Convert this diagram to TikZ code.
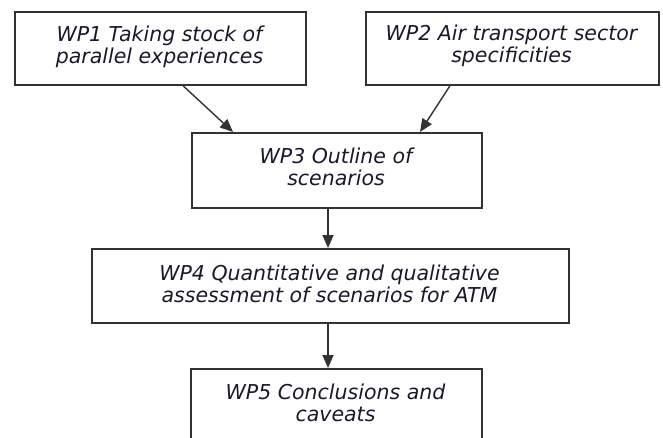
\documentclass[tikz,border=0pt]{standalone}
\usepackage{fontspec}
\setmainfont{DejaVu Sans}
\usetikzlibrary{arrows.meta,calc}
\definecolor{linec}{RGB}{50,50,50}
\definecolor{textc}{RGB}{25,25,45}
\tikzset{
  box/.style={draw=linec, line width=1.7pt, rectangle, inner sep=0pt, anchor=north west},
  txt/.style={align=center, anchor=base, inner sep=0pt, text=textc,
    font=\fontsize{20.5}{22}\selectfont\itshape},
  arr/.style={draw=linec, line width=1.4pt, -{Triangle[length=13pt,width=11pt]}}
}
\begin{document}
\begin{tikzpicture}[x=1pt,y=1pt]
\useasboundingbox (0,0) rectangle (663,-437);
\clip (0,0) rectangle (663,-437);
\node[box, minimum width=291pt, minimum height=73pt] (b1) at (14,-11) {};
\node[box, minimum width=293pt, minimum height=73pt] (b2) at (365,-11) {};
\node[box, minimum width=290pt, minimum height=75pt] (b3) at (191,-132) {};
\node[box, minimum width=477pt, minimum height=74pt] (b4) at (91,-248) {};
\node[box, minimum width=291pt, minimum height=100pt] (b5) at (190,-368) {};
\node[txt] (t1) at (159.5,-63) {WP1 Taking stock of\\parallel experiences};
\node[txt] (t2) at (511.5,-62) {WP2 Air transport sector\\specificities};
\node[txt] (t3) at (336,-185) {WP3 Outline of\\scenarios};
\node[txt] (t4) at (329.5,-302) {WP4 Quantitative and qualitative\\assessment of scenarios for ATM};
\node[txt] (t5) at (335.5,-421) {WP5 Conclusions and\\caveats};
\draw[arr] ([xshift=169pt]b1.south west) -- ([xshift=42pt]b3.north west);
\draw[arr] ([xshift=85pt]b2.south west) -- ([xshift=229pt]b3.north west);
\draw[arr] ([xshift=137pt]b3.south west) -- ([xshift=237pt]b4.north west);
\draw[arr] ([xshift=237pt]b4.south west) -- ([xshift=138pt]b5.north west);
\end{tikzpicture}
\end{document}
